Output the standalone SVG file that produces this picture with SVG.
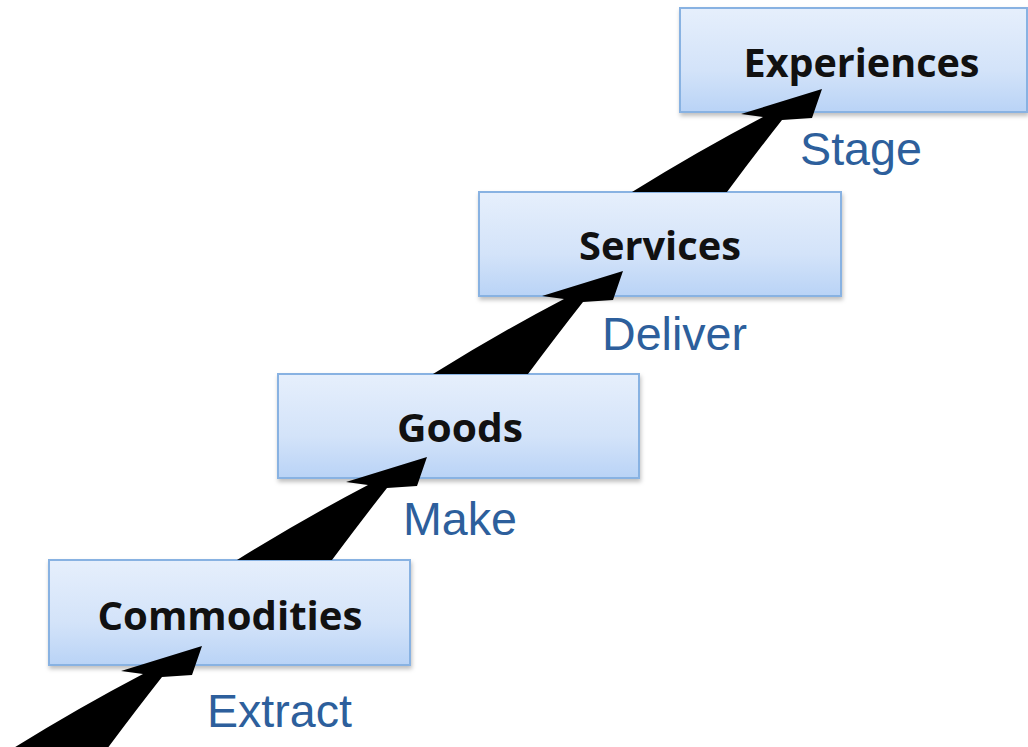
<svg xmlns="http://www.w3.org/2000/svg" width="1028" height="747" viewBox="0 0 1028 747">
<style>
.box{fill:url(#boxGrad);stroke:#88b2e2;stroke-width:2;filter:url(#shadow)}
.title{font-family:"Open Sans","Noto Sans","Liberation Sans",sans-serif;font-weight:700;font-size:40px;fill:#111;text-anchor:middle}
.verb{font-family:"Liberation Sans",Arial,sans-serif;font-size:47px;fill:#2d5f9c}
.arrow{fill:#000}
</style>
<defs>
<linearGradient id="boxGrad" x1="0" y1="0" x2="0" y2="1">
<stop offset="0" stop-color="#e6effc"/>
<stop offset="0.6" stop-color="#d3e3f9"/>
<stop offset="1" stop-color="#b9d3f6"/>
</linearGradient>
<filter id="shadow" x="-5%" y="-10%" width="112%" height="130%">
<feDropShadow dx="1" dy="3" stdDeviation="2" flood-color="#000" flood-opacity="0.25"/>
</filter>
<path id="arw" d="M0,0 L-10,29 L-40,31 Q-66,64 -95,103 L-190,103 Q-124,62 -59,28 L-81,25 Z"/>
</defs>
<rect width="1028" height="747" fill="#fff"/>
<g id="commodities">
<rect class="box" x="49" y="560" width="361" height="105"/>
<text class="title" x="230" y="630" textLength="265" lengthAdjust="spacingAndGlyphs">Commodities</text>
</g>
<g id="goods">
<rect class="box" x="278" y="374" width="361" height="104"/>
<text class="title" x="460" y="442" textLength="126" lengthAdjust="spacingAndGlyphs">Goods</text>
</g>
<g id="services">
<rect class="box" x="479" y="192" width="362" height="104"/>
<text class="title" x="660" y="260" textLength="162" lengthAdjust="spacingAndGlyphs">Services</text>
</g>
<g id="experiences">
<rect class="box" x="680" y="8" width="347" height="104"/>
<text class="title" x="861.5" y="77" textLength="236" lengthAdjust="spacingAndGlyphs">Experiences</text>
</g>
<g id="connectors">
<use href="#arw" class="arrow" transform="translate(202,646)"/>
<use href="#arw" class="arrow" transform="translate(427,457)"/>
<use href="#arw" class="arrow" transform="translate(623,271)"/>
<use href="#arw" class="arrow" transform="translate(822,89)"/>
</g>
<g id="labels">
<text class="verb" x="207" y="727" textLength="145" lengthAdjust="spacingAndGlyphs">Extract</text>
<text class="verb" x="403" y="535" textLength="114" lengthAdjust="spacingAndGlyphs">Make</text>
<text class="verb" x="602" y="350" textLength="145" lengthAdjust="spacingAndGlyphs">Deliver</text>
<text class="verb" x="800" y="165" textLength="122" lengthAdjust="spacingAndGlyphs">Stage</text>
</g>
</svg>
